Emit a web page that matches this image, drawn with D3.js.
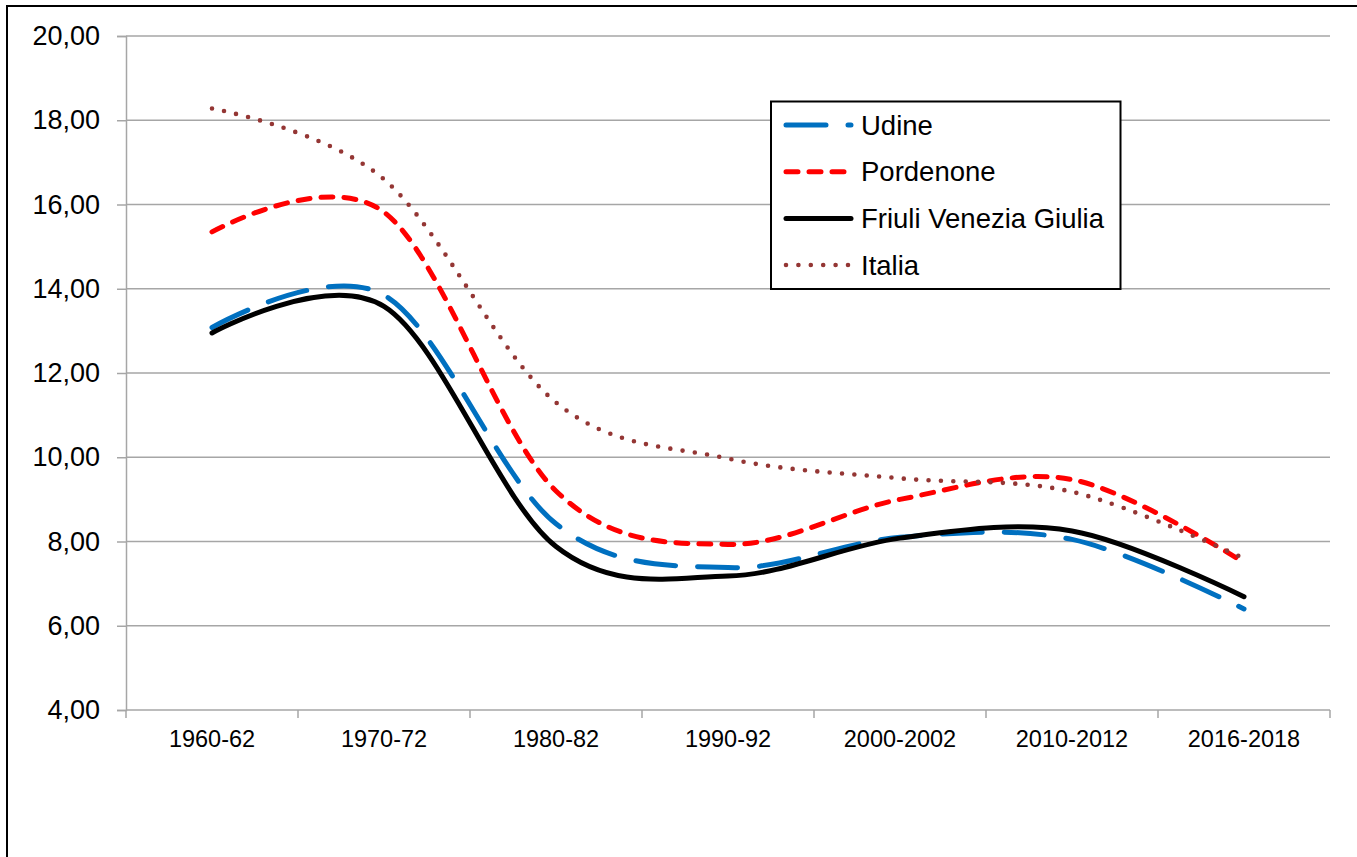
<!DOCTYPE html>
<html>
<head>
<meta charset="utf-8">
<script src="https://cdn.jsdelivr.net/npm/d3@7"></script>
<style>
  html, body { margin: 0; padding: 0; background: #fff; }
  svg { display: block; font-family: "Liberation Sans", Arial, sans-serif; }
</style>
</head>
<body>
<svg id="chart" width="1357" height="857"></svg>
<script>
const categories = ["1960-62", "1970-72", "1980-82", "1990-92", "2000-2002", "2010-2012", "2016-2018"];
const udine      = [13.08, 13.85, 8.42, 7.38, 8.10, 8.05, 6.40];
const pordenone  = [15.35, 15.82, 9.20, 7.93, 9.00, 9.47, 7.50];
const fvg        = [12.95, 13.58, 7.88, 7.18, 8.08, 8.25, 6.69];
const italia     = [18.28, 16.60, 11.30, 9.97, 9.50, 9.18, 7.60];
const yTicks     = [4, 6, 8, 10, 12, 14, 16, 18, 20];
const seriesNames = ["Udine", "Pordenone", "Friuli Venezia Giulia", "Italia"];

(function () {
const series = [
  { name: seriesNames[0], values: udine,     color: "#0070C0", width: 5,   dash: "40,22" },
  { name: seriesNames[1], values: pordenone, color: "#FF0000", width: 5,   dash: "12,11" },
  { name: seriesNames[2], values: fvg,       color: "#000000", width: 5,   dash: null },
  { name: seriesNames[3], values: italia,    color: "#943634", width: 4.6, dash: "0,12.4" }
];

const svg = d3.select("#chart");
const pLeft = 126, pRight = 1330, pTop = 36, pBottom = 710;

// outer border (only left & top visible)
svg.append("rect").attr("x", 7).attr("y", 6).attr("width", 1400).attr("height", 900)
  .attr("fill", "none").attr("stroke", "#000").attr("stroke-width", 2);

const x = d3.scaleBand().domain(categories).range([pLeft, pRight]).padding(0);
const y = d3.scaleLinear().domain([4, 20]).range([pBottom, pTop]);

// gridlines
svg.append("g").selectAll("line").data(yTicks.filter(d => d > 4)).join("line")
  .attr("x1", pLeft).attr("x2", pRight)
  .attr("y1", d => y(d)).attr("y2", d => y(d))
  .attr("stroke", "#A6A6A6").attr("stroke-width", 1.5);

// y axis
const yAxis = svg.append("g").attr("transform", `translate(${pLeft},0)`)
  .call(d3.axisLeft(y).tickValues(yTicks).tickSize(9).tickPadding(17)
        .tickFormat(d => d3.format(".2f")(d).replace(".", ",")));
yAxis.select(".domain").attr("stroke", "#A6A6A6").attr("stroke-width", 1.5);
yAxis.selectAll(".tick line").attr("stroke", "#A6A6A6").attr("stroke-width", 1.5);
yAxis.selectAll(".tick text").attr("font-size", 27).attr("fill", "#000")
  .attr("font-family", "Liberation Sans, Arial, sans-serif");

// x axis
const xAxisG = svg.append("g").attr("transform", `translate(0,${pBottom})`);
xAxisG.append("line").attr("x1", pLeft).attr("x2", pRight).attr("y1", 0).attr("y2", 0)
  .attr("stroke", "#A6A6A6").attr("stroke-width", 1.5);
const boundaries = categories.map(c => x(c)).concat([x(categories[categories.length - 1]) + x.bandwidth()]);
xAxisG.selectAll("line.tk").data(boundaries).join("line").attr("class", "tk")
  .attr("x1", d => d).attr("x2", d => d).attr("y1", 0).attr("y2", 8)
  .attr("stroke", "#A6A6A6").attr("stroke-width", 1.5);
xAxisG.selectAll("text").data(categories).join("text")
  .attr("x", d => x(d) + x.bandwidth() / 2).attr("y", 37)
  .attr("text-anchor", "middle").attr("font-size", 23.5).attr("fill", "#000")
  .text(d => d);

// lines
const line = d3.line()
  .x((d, i) => x(categories[i]) + x.bandwidth() / 2)
  .y(d => y(d))
  .curve(d3.curveCardinal.tension(0));

series.forEach(s => {
  svg.append("path").datum(s.values)
    .attr("d", line)
    .attr("fill", "none")
    .attr("stroke", s.color)
    .attr("stroke-width", s.width)
    .attr("stroke-linecap", "round")
    .attr("stroke-linejoin", "round")
    .attr("stroke-dasharray", s.dash);
});

// legend
const lg = svg.append("g");
lg.append("rect").attr("x", 771).attr("y", 101.5).attr("width", 349.5).attr("height", 187.5)
  .attr("fill", "#fff").attr("stroke", "#000").attr("stroke-width", 2);
const legY = [125, 171.7, 218.4, 265];
series.forEach((s, i) => {
  lg.append("line").attr("x1", 786).attr("x2", 851).attr("y1", legY[i]).attr("y2", legY[i])
    .attr("stroke", s.color).attr("stroke-width", s.width)
    .attr("stroke-linecap", "round").attr("stroke-dasharray", s.dash);
  lg.append("text").attr("x", 861).attr("y", legY[i]).attr("dy", "0.35em")
    .attr("font-size", 27.5).attr("fill", "#000").text(s.name);
});
})();
</script>
</body>
</html>
